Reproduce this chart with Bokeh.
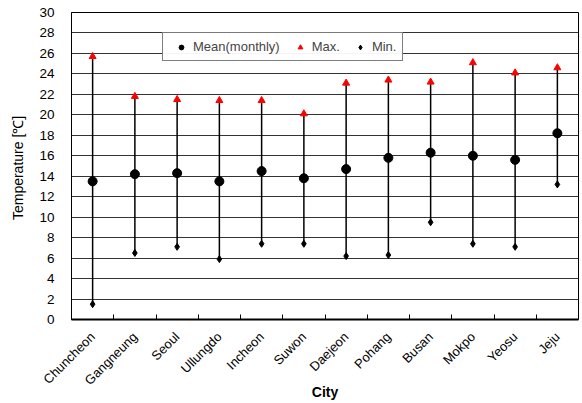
import math
from bokeh.plotting import figure
from bokeh.models import ColumnDataSource, FixedTicker, Range1d, Legend, LegendItem
from bokeh.embed import file_html
from bokeh.resources import INLINE

cities = ["Chuncheon", "Gangneung", "Seoul", "Ullungdo", "Incheon", "Suwon",
          "Daejeon", "Pohang", "Busan", "Mokpo", "Yeosu", "Jeju"]
mean_t = [13.5, 14.2, 14.3, 13.5, 14.5, 13.8, 14.7, 15.8, 16.3, 16.0, 15.6, 18.2]
max_t = [25.7, 21.8, 21.5, 21.4, 21.4, 20.1, 23.1, 23.4, 23.2, 25.1, 24.1, 24.6]
min_t = [1.5, 6.5, 7.1, 5.9, 7.4, 7.4, 6.2, 6.3, 9.5, 7.4, 7.1, 13.2]
y_ticks = list(range(0, 31, 2))

xs = [i + 0.5 for i in range(len(cities))]
src = ColumnDataSource(dict(x=xs, city=cities, mean=mean_t, mx=max_t, mn=min_t))

FONT = "Liberation Sans"

p = figure(width=582, height=403, output_backend="svg", toolbar_location=None,
           x_range=Range1d(0, len(cities)), y_range=Range1d(0, 30),
           min_border_left=71, min_border_right=4, min_border_top=12, min_border_bottom=82)

p.segment(x0="x", y0="mn", x1="x", y1="mx", source=src, line_color="black", line_width=1.5)
r_mean = p.scatter("x", "mean", source=src, marker="circle", size=9,
                   fill_color="black", line_color="black")
r_max = p.scatter("x", "mx", source=src, marker="triangle", size=7,
                  fill_color="red", line_color="red")
r_min = p.scatter("x", "mn", source=src, marker="diamond", size=7,
                  fill_color="black", line_color="black")

# axes
p.xaxis.ticker = FixedTicker(ticks=xs, minor_ticks=list(range(1, len(cities))))
p.xaxis.major_label_overrides = {x: c for x, c in zip(xs, cities)}
p.xaxis.major_tick_line_color = None
p.xaxis.major_tick_in = 0
p.xaxis.major_tick_out = 0
p.xaxis.minor_tick_in = 5
p.xaxis.minor_tick_out = 0
p.xaxis.minor_tick_line_color = "black"
p.xaxis.major_label_orientation = math.pi / 4
p.xaxis.major_label_standoff = 15
p.xaxis.axis_line_width = 2
p.xaxis.axis_line_color = "black"
p.xaxis.major_label_text_font = FONT
p.xaxis.major_label_text_font_size = "13px"
p.xaxis.major_label_text_color = "black"
p.xaxis.axis_label = "City"
p.xaxis.axis_label_text_font = FONT
p.xaxis.axis_label_text_font_size = "14px"
p.xaxis.axis_label_text_font_style = "bold"
p.xaxis.axis_label_text_color = "black"
p.xaxis.axis_label_standoff = -12

p.yaxis.ticker = FixedTicker(ticks=y_ticks)
p.yaxis.major_tick_line_color = None
p.yaxis.major_tick_in = 0
p.yaxis.major_tick_out = 0
p.yaxis.minor_tick_line_color = None
p.yaxis.axis_line_color = "black"
p.yaxis.major_label_text_font = FONT
p.yaxis.major_label_text_font_size = "13.5px"
p.yaxis.major_label_text_color = "black"
p.yaxis.major_label_standoff = 17
p.yaxis.axis_label = "Temperature  [℃]"
p.yaxis.axis_label_text_font = FONT
p.yaxis.axis_label_text_font_size = "14px"
p.yaxis.axis_label_text_font_style = "normal"
p.yaxis.axis_label_text_color = "black"
p.yaxis.axis_label_standoff = 10

p.xgrid.grid_line_color = None
p.ygrid.grid_line_color = "#333333"
p.ygrid.grid_line_width = 1
p.outline_line_color = "black"
p.outline_line_width = 1

legend = Legend(items=[LegendItem(label="Mean(monthly)", renderers=[r_mean]),
                       LegendItem(label="Max.", renderers=[r_max]),
                       LegendItem(label="Min.", renderers=[r_min])],
                orientation="horizontal", location=(91, 258),
                border_line_color="black", border_line_width=1,
                label_text_font=FONT, label_text_font_size="13px",
                glyph_width=24, glyph_height=12, spacing=8,
                padding=6, margin=0, label_standoff=0,
                background_fill_color="white")
p.add_layout(legend, "center")

open("out.html", "w").write(file_html(p, INLINE))
